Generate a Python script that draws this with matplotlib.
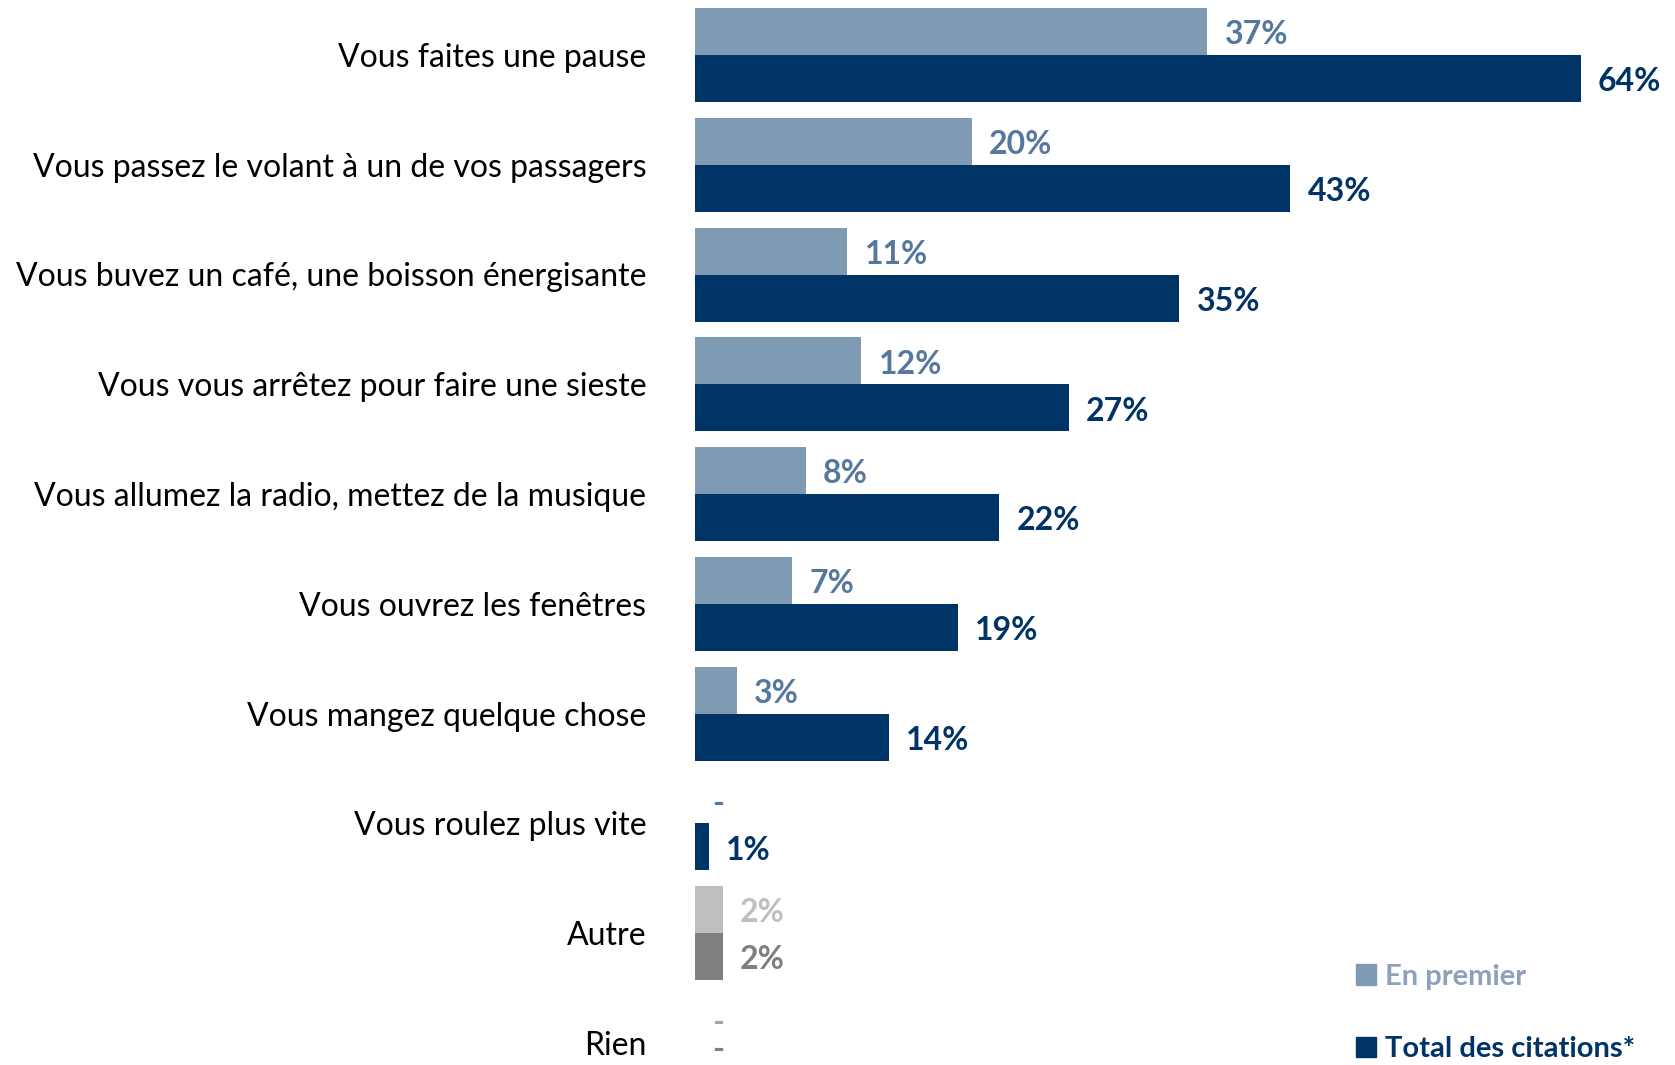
import numpy as np
import matplotlib.pyplot as plt
from matplotlib.patches import Patch

categories = [
    "Vous faites une pause",
    "Vous passez le volant à un de vos passagers",
    "Vous buvez un café, une boisson énergisante",
    "Vous vous arrêtez pour faire une sieste",
    "Vous allumez la radio, mettez de la musique",
    "Vous ouvrez les fenêtres",
    "Vous mangez quelque chose",
    "Vous roulez plus vite",
    "Autre",
    "Rien",
]
en_premier = [37, 20, 11, 12, 8, 7, 3, 0, 2, 0]
total_citations = [64, 43, 35, 27, 22, 19, 14, 1, 2, 0]
legend_labels = ["En premier", "Total des citations*"]

light = '#7F9AB3'
dark = '#003366'
light_txt = '#57789D'

# colours per row (Autre / Rien are drawn in greys)
light_cols = [light] * 8 + ['#BFBFBF', '#BFBFBF']
dark_cols = [dark] * 8 + ['#7F7F7F', '#7F7F7F']
light_lbl = [light_txt] * 8 + ['#BFBFBF', '#A6A6A6']
dark_lbl = [dark] * 8 + ['#7F7F7F', '#7F7F7F']

plt.rcParams['font.family'] = ['Lato', 'DejaVu Sans']

W, H = 1675, 1065
fig = plt.figure(figsize=(W / 100, H / 100), dpi=100)
x0 = 695
ax = fig.add_axes([x0 / W, 0, 1 - x0 / W, 1])

pitch = 109.75          # px between rows
h = 47 / pitch          # bar height in row units
px_per_unit = 13.84
ax.set_xlim(0, (W - x0) / px_per_unit)
ax.set_ylim((H - 55) / pitch, -55 / pitch)

y = np.arange(len(categories))
ax.barh(y - h / 2, en_premier, height=h, color=light_cols)
ax.barh(y + h / 2, total_citations, height=h, color=dark_cols)

ymax = (H - 55) / pitch
for i in range(len(categories)):
    for v, yy, c in [(en_premier[i], y[i] - h / 2, light_lbl[i]),
                     (total_citations[i], y[i] + h / 2, dark_lbl[i])]:
        txt = f"{v}%" if v > 0 else "-"
        # keep the last label inside the figure
        ty = min(yy, ymax - 0.17)
        ax.annotate(txt, (v, ty), xytext=(12.5, -2.5), textcoords='offset points',
                    ha='left', va='center', fontsize=23, fontweight='bold',
                    color=c, annotation_clip=False)

ax.set_yticks(y)
ax.set_yticklabels(categories, fontsize=23, color='black')
ax.tick_params(axis='y', length=0, pad=35)
ax.set_xticks([])
for s in ax.spines.values():
    s.set_visible(False)

handles = [Patch(color=light), Patch(color=dark)]
leg = fig.legend(handles, legend_labels, loc='upper left',
                 bbox_to_anchor=(1344 / W, 1 - 952 / H), frameon=False,
                 handlelength=0.7, handleheight=0.7, handletextpad=0.3,
                 labelspacing=1.6, borderaxespad=0,
                 prop={'size': 21, 'weight': 'bold'})
for t, c in zip(leg.get_texts(), ['#8DA2BA', dark]):
    t.set_color(c)

fig.savefig('out.png', dpi=100)
